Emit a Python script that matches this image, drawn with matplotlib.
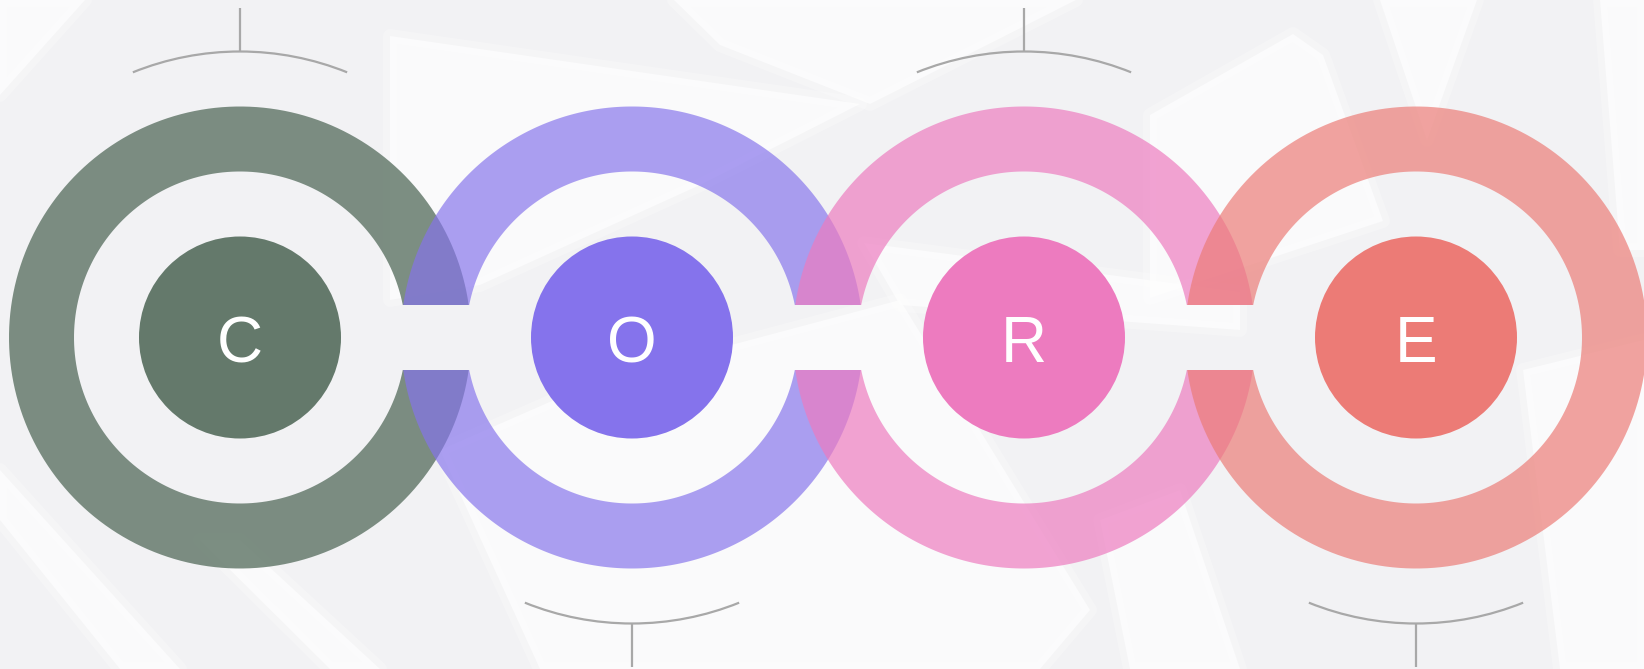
import numpy as np
import matplotlib.pyplot as plt
from matplotlib.patches import Polygon, Circle, Arc

# data
letters = ["C", "O", "R", "E"]
disk_colors = ["#64796b", "#8573ec", "#ed7bbf", "#ec7b76"]
ring_alpha = [0.84, 0.68, 0.69, 0.69]
bracket_side = ["top", "bottom", "top", "bottom"]

W, H = 1644, 669
BG = "#f2f2f4"

# geometry in pixels (y measured from top of the image)
x0, step, cy_top = 240, 392, 337.5
r_out, r_in, r_disk = 231, 166, 101
gap = 32.5
r_bracket, bracket_half = 286, 22

# faint white swooshes of the background, (x, y-from-top)
swooshes = [
    [(0, 0), (85, 0), (0, 95)],
    [(674, 0), (720, 45), (870, 104), (1076, 0)],
    [(390, 36), (860, 104), (700, 185), (480, 285), (390, 300)],
    [(864, 243), (1240, 292), (1240, 330), (900, 305)],
    [(440, 450), (600, 380), (900, 300), (1090, 610), (1040, 669), (540, 669)],
    [(1150, 115), (1293, 34), (1323, 55), (1383, 221), (1150, 298)],
    [(1380, 0), (1477, 0), (1427, 140)],
    [(1600, 0), (1644, 0), (1644, 250), (1620, 250)],
    [(1523, 370), (1644, 340), (1644, 669), (1560, 669)],
    [(1100, 520), (1180, 490), (1240, 669), (1130, 669)],
    [(0, 470), (0, 520), (120, 669), (180, 669)],
    [(200, 540), (240, 540), (380, 669), (330, 669)],
]


def ring_pieces(cx, cy, cut_left, cut_right, n=200):
    a_o = np.arcsin(gap / r_out)
    a_i = np.arcsin(gap / r_in)
    if cut_left and cut_right:
        spans = [(a_o, np.pi - a_o, a_i, np.pi - a_i),
                 (np.pi + a_o, 2 * np.pi - a_o, np.pi + a_i, 2 * np.pi - a_i)]
    elif cut_right:
        spans = [(a_o, 2 * np.pi - a_o, a_i, 2 * np.pi - a_i)]
    else:
        spans = [(-np.pi + a_o, np.pi - a_o, -np.pi + a_i, np.pi - a_i)]
    pieces = []
    for lo, hi, lo_i, hi_i in spans:
        t_o = np.linspace(lo, hi, n)
        t_i = np.linspace(hi_i, lo_i, n)
        xs = np.concatenate([cx + r_out * np.cos(t_o), cx + r_in * np.cos(t_i)])
        ys = np.concatenate([cy + r_out * np.sin(t_o), cy + r_in * np.sin(t_i)])
        pieces.append(np.column_stack([xs, ys]))
    return pieces


fig = plt.figure(figsize=(W / 100, H / 100), dpi=100)
fig.patch.set_facecolor(BG)
ax = fig.add_axes([0, 0, 1, 1])
ax.set_xlim(0, W)
ax.set_ylim(0, H)
ax.set_facecolor(BG)
ax.axis("off")

# soft-edged background shapes
for pts in swooshes:
    xy = [(x, H - y) for x, y in pts]
    ax.add_patch(Polygon(xy, closed=True, facecolor="white", edgecolor="none",
                         alpha=0.65, zorder=0))
    ax.add_patch(Polygon(xy, closed=True, facecolor="none", edgecolor="white",
                         lw=10, joinstyle="round", alpha=0.25, zorder=0))

cy = H - cy_top
n = len(letters)
for i, (letter, color, alpha, side) in enumerate(zip(letters, disk_colors, ring_alpha, bracket_side)):
    cx = x0 + i * step
    for piece in ring_pieces(cx, cy, i > 0, i < n - 1):
        ax.add_patch(Polygon(piece, closed=True, facecolor=color, edgecolor="none",
                             alpha=alpha, zorder=2 + i * 0.1))
    ax.add_patch(Circle((cx, cy), r_disk, facecolor=color, edgecolor="none", zorder=3))
    ax.text(cx, cy - 25, letter, ha="center", va="baseline", color="white",
            fontsize=46, family="Liberation Sans", zorder=4)

    # bracket: arc around the ring plus a short tick
    if side == "top":
        t1, t2 = 90 - bracket_half, 90 + bracket_half
        y_a, y_b = cy + r_bracket, H - 8
    else:
        t1, t2 = 270 - bracket_half, 270 + bracket_half
        y_a, y_b = cy - r_bracket, 2
    ax.add_patch(Arc((cx, cy), 2 * r_bracket, 2 * r_bracket, theta1=t1, theta2=t2,
                     color="#a8a8a8", lw=1.6, zorder=1))
    ax.plot([cx, cx], [y_a, y_b], color="#a8a8a8", lw=1.6, zorder=1,
            solid_capstyle="butt")

fig.savefig("out.png", dpi=100, facecolor=BG)
